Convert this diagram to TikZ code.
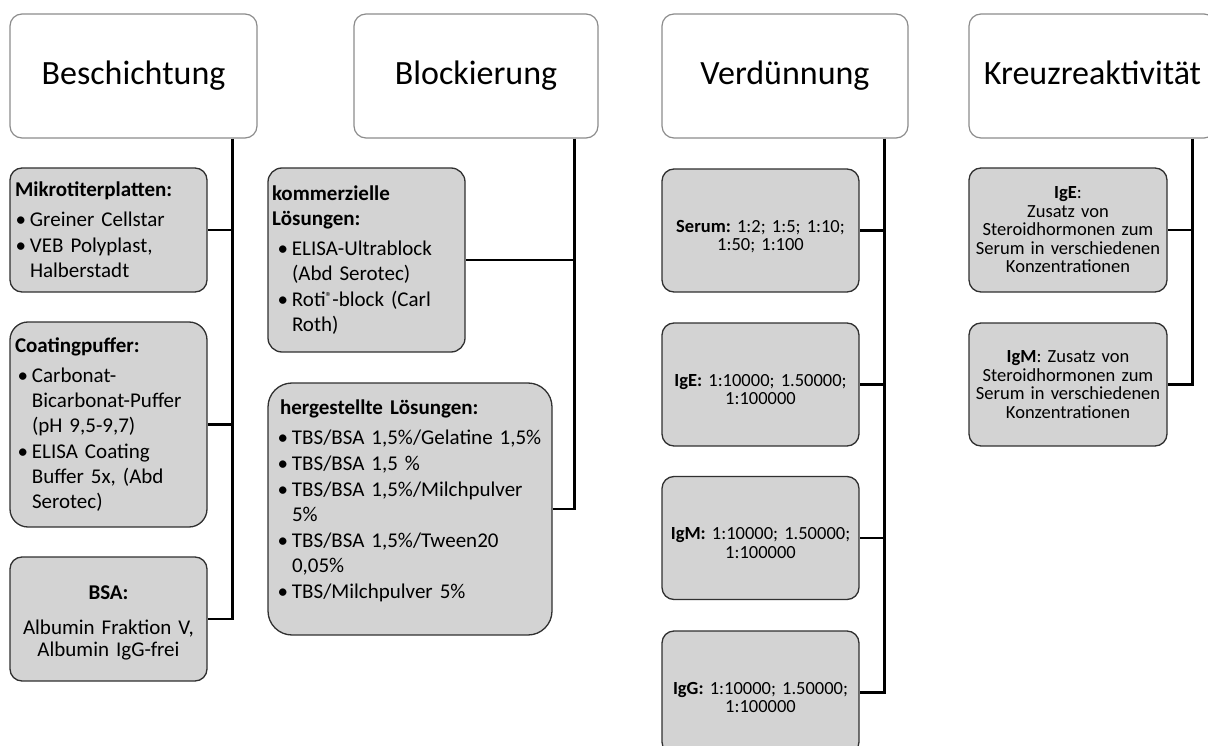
\documentclass[tikz,border=0pt]{standalone}
\usepackage{fontspec}
\setmainfont{Carlito}
\frenchspacing
\definecolor{titleborder}{HTML}{8C8C8C}
\definecolor{subborder}{HTML}{303030}
\definecolor{subfill}{HTML}{D3D3D3}
\newcommand{\bitem}[2][15pt]{\par\hangindent=#1\hangafter=1\noindent\makebox[#1][r]{\textbullet\hspace{4pt}}#2}
\newcommand{\bhead}[1]{\textbf{#1}\par\vspace{4pt}}
\newcommand{\regmark}{\raisebox{5pt}{\fontsize{13}{13}\selectfont ®}}
\tikzset{
  titlebox/.style={draw=titleborder, line width=1.2pt, fill=white, rounded corners=12pt,
    inner sep=0pt, minimum width=#1, minimum height=124pt, text height=22pt, text depth=4pt,
    font=\fontsize{34}{40}\selectfont},
  subbox/.style={draw=subborder, line width=1.3pt, fill=subfill, inner ysep=0pt},
  listtext/.style={font=\fontsize{21}{25}\selectfont\frenchspacing, align=left,
    execute at begin node={\setlength{\parskip}{1pt}}},
  smalltext/.style={font=\fontsize{18.5}{18.5}\selectfont\frenchspacing, align=center},
  conn/.style={draw=black, line width=2.6pt},
}
\begin{document}
\begin{tikzpicture}[x=1pt,y=-1pt]
\path[use as bounding box, clip] (0,0) rectangle (1208,746);
% title boxes
\node[titlebox=247pt] (T1) at (133.5,76) {Beschichtung};
\node[titlebox=244pt] (T2) at (476,76) {Blockierung};
\node[titlebox=246pt] (T3) at (785,76) {Verdünnung};
\node[titlebox=247pt] (T4) at (1092.5,76) {Kreuzreaktivität};
% column 1
\node[subbox, listtext, rounded corners=12pt, inner xsep=5pt, text width=187pt, minimum height=124pt] (A1) at (108.5,230)
  {\bhead{Mikrotiterplatten:}\bitem{Greiner Cellstar}\bitem{VEB Polyplast,\newline Halberstadt}\par};
\node[subbox, listtext, rounded corners=18pt, inner xsep=5pt, text width=187pt, minimum height=205pt] (A2) at (108.5,424.5)
  {\bhead{Coatingpuffer:}\bitem[17pt]{Carbonat-\newline Bicarbonat-Puffer\newline (pH 9,5-9,7)}\bitem[17pt]{ELISA Coating\newline Buffer 5x, (Abd\newline Serotec)}\par};
\node[subbox, rounded corners=12pt, font=\fontsize{21}{22}\selectfont\frenchspacing, align=center, inner xsep=5pt, text width=187pt, minimum height=124pt] (A3) at (108.5,619)
  {\rule{0pt}{22pt}\textbf{BSA:}\\[13pt] Albumin Fraktion V,\\ Albumin IgG-frei};
% column 2
\node[subbox, listtext, rounded corners=14pt, inner xsep=4pt, text width=189pt, minimum height=184pt] (B1) at (366.5,260)
  {\bhead{kommerzielle\newline Lösungen:}\bitem[20pt]{ELISA-Ultrablock\newline (Abd Serotec)}\bitem[20pt]{Roti\regmark-block (Carl\newline Roth)}\par};
\node[subbox, listtext, rounded corners=24pt, inner xsep=12pt, text width=260pt, minimum height=252pt] (B2) at (410,509)
  {\bhead{hergestellte Lösungen:}\bitem[12pt]{\mbox{TBS/BSA 1,5\%/Gelatine 1,5\%}}\bitem[12pt]{TBS/BSA 1,5 \%}\bitem[12pt]{TBS/BSA 1,5\%/Milchpulver\newline 5\%}\bitem[12pt]{TBS/BSA 1,5\%/Tween20\newline 0,05\%}\bitem[12pt]{TBS/Milchpulver 5\%}\par\nointerlineskip\rule{0pt}{16pt}};
% column 3
\node[subbox, smalltext, rounded corners=12pt, inner xsep=4pt, text width=189pt, minimum height=123pt] (C1) at (760.5,230.5)
  {\rule{0pt}{24pt}\textbf{Serum:} 1:2; 1:5; 1:10;\\ 1:50; 1:100};
\node[subbox, smalltext, rounded corners=12pt, inner xsep=4pt, text width=189pt, minimum height=123pt] (C2) at (760.5,384.5)
  {\rule{0pt}{22pt}\textbf{IgE:} 1:10000; 1.50000;\\ 1:100000};
\node[subbox, smalltext, rounded corners=12pt, inner xsep=4pt, text width=189pt, minimum height=123pt] (C3) at (760.5,538)
  {\rule{0pt}{22pt}\textbf{IgM:} 1:10000; 1.50000;\\ 1:100000};
\node[subbox, smalltext, rounded corners=12pt, inner xsep=4pt, text width=189pt, minimum height=123pt] (C4) at (760.5,692.5)
  {\rule{0pt}{22pt}\textbf{IgG:} 1:10000; 1.50000;\\ 1:100000};
% column 4
\node[subbox, smalltext, rounded corners=12pt, inner xsep=4pt, text width=190pt, minimum height=124pt] (D1) at (1068,230)
  {\textbf{IgE}:\\ Zusatz von\\ Steroidhormonen zum\\ Serum in verschiedenen\\ Konzentrationen};
\node[subbox, smalltext, rounded corners=12pt, inner xsep=4pt, text width=190pt, minimum height=123pt] (D2) at (1068,384.5)
  {\textbf{IgM}: Zusatz von\\ Steroidhormonen zum\\ Serum in verschiedenen\\ Konzentrationen};
% trunk points
\coordinate (t1) at ([xshift=-25pt]T1.south east);
\coordinate (t2) at ([xshift=-24pt]T2.south east);
\coordinate (t3) at ([xshift=-24pt]T3.south east);
\coordinate (t4) at ([xshift=-24pt]T4.south east);
% connectors
\draw[conn] (t1) |- (A3.east);
\draw[conn] (t1 |- A1.east) -- (A1.east);
\draw[conn] (t1 |- A2.east) -- (A2.east);
\draw[conn] (t2) |- (B2.east);
\draw[conn] (t2 |- B1.east) -- (B1.east);
\draw[conn] (t3) |- (C4.east);
\draw[conn] (t3 |- C1.east) -- (C1.east);
\draw[conn] (t3 |- C2.east) -- (C2.east);
\draw[conn] (t3 |- C3.east) -- (C3.east);
\draw[conn] (t4) |- (D2.east);
\draw[conn] (t4 |- D1.east) -- (D1.east);
\end{tikzpicture}
\end{document}
